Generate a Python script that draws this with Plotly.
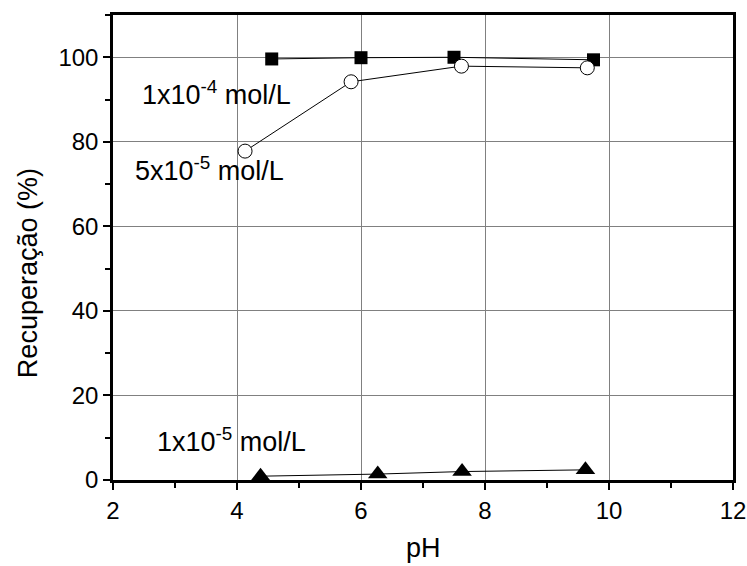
import plotly.graph_objects as go

ph_sq = [4.56, 6.0, 7.5, 9.75]
rec_sq = [99.6, 99.9, 100.0, 99.4]
ph_ci = [4.13, 5.84, 7.62, 9.65]
rec_ci = [77.8, 94.2, 97.9, 97.5]
ph_tr = [4.38, 6.27, 7.63, 9.62]
rec_tr = [0.9, 1.4, 2.0, 2.4]

labels = ["1x10<sup>-4</sup> mol/L", "5x10<sup>-5</sup> mol/L", "1x10<sup>-5</sup> mol/L"]
label_x = [2.43, 2.32, 2.68]
label_y = [91.5, 73.5, 9.5]

FONT = "Liberation Sans, Arial, sans-serif"

fig = go.Figure()
fig.add_trace(go.Scatter(x=ph_sq, y=rec_sq, mode="lines+markers",
                         line=dict(color="black", width=1),
                         marker=dict(symbol="square", size=13, color="black")))
fig.add_trace(go.Scatter(x=ph_ci, y=rec_ci, mode="lines+markers",
                         line=dict(color="black", width=1),
                         marker=dict(symbol="circle", size=14, color="white",
                                     line=dict(color="black", width=1))))
fig.add_trace(go.Scatter(x=ph_tr, y=rec_tr, mode="lines+markers",
                         line=dict(color="black", width=1),
                         marker=dict(symbol="triangle-up", size=17, color="black")))

for t, x, y in zip(labels, label_x, label_y):
    fig.add_annotation(x=x, y=y, text=t, showarrow=False, xanchor="left",
                       yanchor="middle", font=dict(family=FONT, size=27, color="black"))

fig.add_annotation(xref="paper", yref="paper", x=-0.137, y=0.445,
                   text="Recuperação (%)", textangle=-90, showarrow=False,
                   xanchor="center", yanchor="middle",
                   font=dict(family=FONT, size=27, color="black"))
fig.add_annotation(xref="paper", yref="paper", x=0.5, y=-0.146,
                   text="pH", showarrow=False,
                   xanchor="center", yanchor="middle",
                   font=dict(family=FONT, size=27, color="black"))

fig.update_layout(
    width=747, height=566,
    margin=dict(l=113, r=14, t=15, b=86, autoexpand=False),
    paper_bgcolor="white", plot_bgcolor="white",
    showlegend=False,
    font=dict(family=FONT, color="black"),
)
fig.update_xaxes(range=[2, 12], dtick=2, tick0=2, automargin=False,
                 ticklabeloverflow="allow",
                 showline=True, linecolor="black", linewidth=2.5, mirror=True,
                 ticks="outside", ticklen=7, tickwidth=2, tickcolor="black",
                 minor=dict(dtick=1, ticks="outside", ticklen=5, tickwidth=2, tickcolor="black", showgrid=False),
                 showgrid=True, gridcolor="#808080", gridwidth=1,
                 zeroline=False,
                 tickfont=dict(size=24, family=FONT))
fig.update_yaxes(range=[0, 110], dtick=20, tick0=0, automargin=False,
                 showline=True, linecolor="black", linewidth=2.5, mirror=True,
                 ticks="outside", ticklen=7, tickwidth=2, tickcolor="black",
                 minor=dict(dtick=10, ticks="outside", ticklen=5, tickwidth=2, tickcolor="black", showgrid=False),
                 showgrid=True, gridcolor="#808080", gridwidth=1,
                 zeroline=False,
                 tickfont=dict(size=24, family=FONT))

fig.write_html("out.html", config={"displayModeBar": False},
               post_script="document.body.style.margin='0';")
